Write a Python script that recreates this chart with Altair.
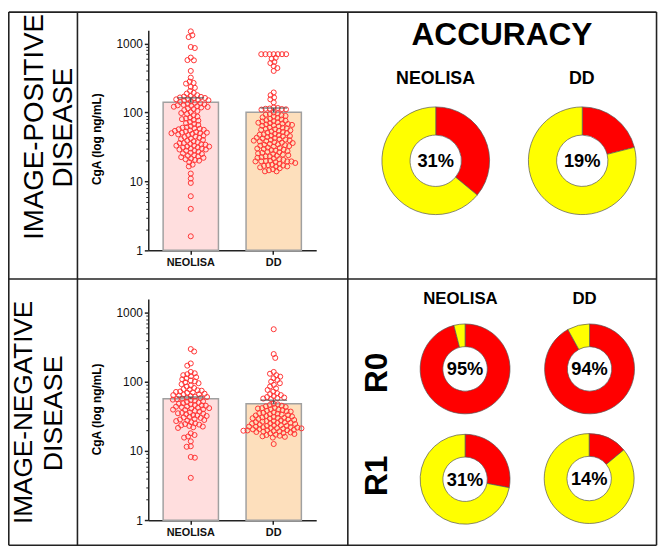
import math
import altair as alt
import pandas as pd

# ---------------------------------------------------------------- data
groups = ["NEOLISA", "DD"]

pos_neolisa = [
    1500, 1320, 1240, 890, 860, 625, 575, 570, 400, 320,
    280, 268, 262, 235, 228, 205, 192, 188, 178, 174, 170, 168,
    165, 162, 160, 158, 155, 152, 150, 148, 145, 142,
    138, 136, 134, 131, 129, 127, 125, 123, 121, 120,
    118, 115, 112, 108, 105, 101, 98, 95, 91, 87,
    84, 82, 80, 78, 76, 73, 70, 68, 66, 63,
    61, 60, 59, 58, 57, 56, 55, 54, 53, 52, 51, 51, 50, 50,
    49, 48, 47, 46, 45, 44, 43, 42, 41, 40, 39, 38, 37, 36, 36, 35,
    34.5, 34, 33, 33, 32, 32, 31, 31, 30, 30, 29, 29, 28, 28,
    27, 26, 25.5, 25, 24, 23.5, 23, 22.5,
    22, 21.5, 21, 20.5, 20, 19, 17.5, 16.5,
    13, 11, 9.5, 6.1, 4.0, 1.6,
]
pos_dd = [
    700, 700, 700, 700, 700, 700, 700,
    620, 600, 540, 520, 470, 440, 400,
    195, 178, 165, 155, 140,
    118, 116, 114, 113, 112, 111, 110,
    100, 97, 95, 93, 91, 89, 87,
    85, 83, 81, 79, 77, 76, 75, 74,
    72, 71, 70, 69, 68, 67, 66, 65, 64, 63,
    61, 60, 59, 58, 57, 56, 55, 54, 53, 52,
    51, 50, 49, 48, 47.5, 47, 46, 45.5, 45, 44,
    43, 42.5, 42, 41, 40.5, 40, 39.5, 39, 38.5, 38,
    37, 36.5, 36, 35, 34.5, 34, 33.5, 33, 32.5, 32,
    31, 30.5, 30, 29.5, 29, 28.5, 28, 27.5, 27,
    26.5, 26, 25.5, 25, 24.5, 24, 23.5, 23, 23,
    22.5, 22, 21.5, 21, 20.5, 20, 19.8, 19.6, 19.5, 19.5, 19.5,
    19, 18.5, 18, 17.5, 17.2, 17, 16.8, 16.5, 16.5,
    16, 15.5, 15, 14.5, 14, 14,
]
neg_neolisa = [
    295, 272, 183, 170,
    138, 132, 128, 124, 120, 116, 112, 108, 104,
    101, 98, 95, 92, 88, 85, 81,
    78, 77, 75, 74, 72, 71, 70, 69, 67, 66, 65, 64, 63,
    62, 61, 60, 59, 58, 57, 56, 55, 54, 53, 52, 51, 50, 49, 48, 47, 46,
    45.5, 45, 44, 43.5, 43, 42, 41.5, 41, 40, 39.5, 39, 38, 37, 36, 35.5, 35,
    34.5, 34, 33, 32.5, 32, 31, 30.5, 30, 29, 28.5, 28, 27.5,
    27, 26, 25, 24.5, 24, 23.5, 23, 22.5, 22, 21.5,
    18, 17, 16.2, 15.6,
    13.8, 11.7, 11.5,
    8.2, 8.0,
    4.1,
]
neg_dd = [
    570, 250, 220,
    138, 130, 124, 118, 112, 106, 100, 95, 90, 85, 80, 76, 72, 68,
    66, 64, 62, 60, 59, 58, 57, 56,
    48, 47, 46, 45, 44, 43, 42, 41.5,
    41, 40, 39.5, 39, 38, 37.5, 37, 36, 35.5, 35,
    34.5, 34, 33.5, 33, 32.5, 32, 31.5, 31, 30.5, 30, 30, 29.7,
    29.5, 29, 28.5, 28, 27.5, 27, 27, 26.5, 26, 26, 25.5, 25.5, 25,
    24.8, 24.5, 24, 23.5, 23.5, 23, 23, 22.5, 22.5, 22, 22, 21.8, 21.5, 21.4,
    21.2, 21, 20.7, 20.5, 20.2, 20, 20, 19.8, 19.6, 19.4, 19.2, 19, 18.8, 18.5, 18.2,
    18, 17.6, 17.2, 17, 16.6, 16.3, 16, 15.6,
    12.6,
]

pos_mean = [141, 101]
pos_upper = [163, 116]
neg_mean = [56.5, 48]
neg_upper = [60, 54]

acc_panel = ["POS", "POS", "R0", "R0", "R1", "R1"]
acc_method = ["NEOLISA", "DD", "NEOLISA", "DD", "NEOLISA", "DD"]
acc_red = [36, 21, 96, 92, 28, 14]
acc_text = ["31%", "19%", "95%", "94%", "31%", "14%"]

# ---------------------------------------------------------------- layout
M = 8                      # page margin
W, H = 667 - M, 551 - M
FONT = "Liberation Sans"
LINE = "#222222"
BAR_FILL = ["#ffdede", "#fddfbc"]
BAR_STROKE = "#a0a0a0"
PT_COLOR = "#ff3535"
Y_MAX = 1550

X0, X1 = 150 - M, 320 - M
P_IN, P_OUT = 0.333, 0.179
STEP = (X1 - X0) / (2 - P_IN + 2 * P_OUT)
BW = STEP * (1 - P_IN)
C1 = X0 + P_OUT * STEP + BW / 2
C2 = C1 + STEP

PANELS = {
    "pos": dict(base=250 - M, dec=69.8),
    "neg": dict(base=523.3 - M, dec=70.2),
}

DONUT_POS = {
    ("POS", "NEOLISA"): (441 - M, 159.3 - M, 54.5, 26),
    ("POS", "DD"): (589.3 - M, 159.3 - M, 54.5, 26),
    ("R0", "NEOLISA"): (470.7 - M, 370 - M, 45.5, 22.5),
    ("R0", "DD"): (596.7 - M, 370 - M, 45.5, 22.5),
    ("R1", "NEOLISA"): (470.7 - M, 481.7 - M, 45.5, 22.5),
    ("R1", "DD"): (596.3 - M, 481 - M, 45.5, 22.5),
}


def beeswarm(values, dec, dist=4.2):
    ys = [math.log10(v) * dec for v in values]
    order = sorted(range(len(values)), key=lambda i: -values[i])
    placed, xs, side = [], [0.0] * len(values), 1
    for i in order:
        y = ys[i]
        iv = []
        for px, py in placed:
            dy = abs(py - y)
            if dy < dist:
                w = math.sqrt(dist * dist - dy * dy)
                iv.append((px - w, px + w))
        cands = [0.0] + [a for a, _ in iv] + [b for _, b in iv]
        best = 0.0
        for c in sorted(cands, key=lambda c: (round(abs(c), 6), -side * c)):
            if all(not (a + 1e-6 < c < b - 1e-6) for a, b in iv):
                best = c
                break
        xs[i] = best
        placed.append((best, y))
        if best != 0:
            side = -side
    return xs


def bar_panel(key, vals_a, vals_b, means, uppers):
    base, dec = PANELS[key]["base"], PANELS[key]["dec"]
    yscale = alt.Scale(type="log", domain=[1, Y_MAX],
                       range=[base, base - dec * math.log10(Y_MAX)])
    xband = alt.Scale(type="band", domain=groups, range=[X0, X1],
                      paddingInner=P_IN, paddingOuter=P_OUT, align=0.5)
    xpt = alt.Scale(type="point", domain=groups, range=[C1, C2], padding=0)

    bars_df = pd.DataFrame({"group": groups, "mean": means, "upper": uppers})
    rows = []
    for g, vals in zip(groups, [vals_a, vals_b]):
        for v, dx in zip(vals, beeswarm(vals, dec)):
            rows.append({"group": g, "value": v, "dx": dx})
    pts_df = pd.DataFrame(rows)

    major = alt.Axis(orient="left", offset=-X0, values=[1, 10, 100, 1000], format="d",
                     tickSize=4, tickWidth=1.5, tickColor=LINE, domainColor=LINE,
                     domainWidth=1.5, labelFont=FONT, labelFontSize=12, labelColor="#111",
                     labelPadding=2, grid=False, title=None)
    minor_vals = [m * 10 ** k for k in range(3) for m in range(2, 10)]
    minor = alt.Axis(orient="left", offset=-X0, values=minor_vals, labels=False,
                     domain=False, tickSize=2.5, tickWidth=1, tickColor=LINE,
                     grid=False, title=None)
    xaxis = alt.Axis(orient="bottom", offset=base - H, tickSize=4, tickWidth=1.5,
                     tickColor=LINE, domainColor=LINE, domainWidth=1.5, labelFont=FONT,
                     labelFontSize=11, labelFontWeight="bold", labelColor="#111",
                     labelAngle=0, labelPadding=2, grid=False, title=None)

    bars = alt.Chart(bars_df).mark_bar(stroke=BAR_STROKE, strokeWidth=1.5).encode(
        x=alt.X("group:N", scale=xband, sort=groups, axis=xaxis),
        y=alt.Y("mean:Q", scale=yscale, axis=major),
        y2=alt.datum(1),
        color=alt.Color("group:N", scale=alt.Scale(domain=groups, range=BAR_FILL), legend=None),
    )
    pts = alt.Chart(pts_df).mark_point(shape="circle", size=26, filled=False,
                                       color=PT_COLOR, strokeWidth=1, opacity=1).encode(
        x=alt.X("group:N", scale=xpt, axis=None),
        xOffset=alt.XOffset("dx:Q", scale=alt.Scale(domain=[-60, 60], range=[-60, 60])),
        y=alt.Y("value:Q", scale=yscale, axis=minor),
    )
    err = alt.Chart(bars_df).mark_rule(color="#555555", strokeWidth=1.5).encode(
        x=alt.X("group:N", scale=xband, sort=groups, axis=None),
        y=alt.Y("mean:Q", scale=yscale, axis=None),
        y2="upper:Q",
    )
    cap = alt.Chart(bars_df).mark_tick(orient="horizontal", size=27, thickness=1.5,
                                       color="#555555").encode(
        x=alt.X("group:N", scale=xband, sort=groups, axis=None),
        y=alt.Y("upper:Q", scale=yscale, axis=None),
    )
    return [bars, pts, err, cap]


def text(s, x, y, size, weight="bold", angle=0):
    return alt.Chart(pd.DataFrame({"t": [s]})).mark_text(
        font=FONT, fontSize=size, fontWeight=weight, angle=angle, align="center",
        baseline="alphabetic", color="#000000",
    ).encode(x=alt.value(x), y=alt.value(y), text="t:N")


def hline(x1, x2, y):
    return alt.Chart(pd.DataFrame({"a": [0]})).mark_rule(color=LINE, strokeWidth=1.6).encode(
        x=alt.value(x1), x2=alt.value(x2), y=alt.value(y))


def vline(x, y1, y2):
    return alt.Chart(pd.DataFrame({"a": [0]})).mark_rule(color=LINE, strokeWidth=1.6).encode(
        x=alt.value(x), y=alt.value(y1), y2=alt.value(y2))


donut_rows = []
for p, m, r in zip(acc_panel, acc_method, acc_red):
    donut_rows.append({"panel": p, "method": m, "part": "red", "share": r, "k": 0})
    donut_rows.append({"panel": p, "method": m, "part": "yellow", "share": 100 - r, "k": 1})
donut_df = pd.DataFrame(donut_rows)

layers = []
# borders
layers += [
    hline(0.8, W - 2.5, 0.8), hline(0.8, W - 2.5, H - 2.5),
    vline(0.8, 0.8, H - 2.5), vline(W - 2.5, 0.8, H - 2.5),
    vline(78.3 - M, 0.8, H - 2.5), vline(352 - M, 0.8, H - 2.5),
    hline(0.8, W - 2.5, 279 - M),
]
# row labels
layers += [
    text("IMAGE-POSITIVE", 43.3 - M, 125 - M, 28, "normal", 270),
    text("DISEASE", 72.3 - M, 125.8 - M, 28, "normal", 270),
    text("IMAGE-NEGATIVE", 32.2 - M, 414 - M, 26.5, "normal", 270),
    text("DISEASE", 63 - M, 415 - M, 27, "normal", 270),
    text("CgA (log ng/mL)", 102.5 - M, 137.5 - M, 12, "bold", 270),
    text("CgA (log ng/mL)", 102.5 - M, 411 - M, 12, "bold", 270),
]
layers += bar_panel("pos", pos_neolisa, pos_dd, pos_mean, pos_upper)
layers += bar_panel("neg", neg_neolisa, neg_dd, neg_mean, neg_upper)

# accuracy panel texts
layers += [
    text("ACCURACY", 508 - M, 41.7 - M, 32),
    text("NEOLISA", 440.8 - M, 81.7 - M, 18),
    text("DD", 588.8 - M, 81.7 - M, 18),
    text("NEOLISA", 466 - M, 304.3 - M, 17),
    text("DD", 591.7 - M, 304.3 - M, 17),
    text("R0", 391.7 - M, 374 - M, 32, "bold", 270),
    text("R1", 391.7 - M, 478.3 - M, 32, "bold", 270),
]

for p, m, lab in zip(acc_panel, acc_method, acc_text):
    cx, cy, ro, ri = DONUT_POS[(p, m)]
    sub = donut_df[(donut_df.panel == p) & (donut_df.method == m)]
    layers.append(
        alt.Chart(sub).mark_arc(outerRadius=ro, innerRadius=ri, stroke="#555555",
                                strokeWidth=0.7).encode(
            theta=alt.Theta("share:Q", stack=True, scale=alt.Scale(domain=[0, 100])),
            color=alt.Color("part:N", scale=alt.Scale(domain=["red", "yellow"],
                                                      range=["#ff0000", "#ffff00"]), legend=None),
            order=alt.Order("k:Q"),
            x=alt.value(cx), y=alt.value(cy),
        )
    )
    layers.append(text(lab, cx, cy + 6.6, 18.5))

chart = alt.layer(*layers).properties(
    width=W, height=H, padding=0, autosize=alt.AutoSizeParams(type="none"),
).resolve_scale(
    x="independent", y="independent", color="independent", theta="independent",
    xOffset="independent",
).resolve_axis(x="independent", y="independent").configure_view(stroke=None)

chart.save("out.html", embed_options={"renderer": "svg", "actions": False})
